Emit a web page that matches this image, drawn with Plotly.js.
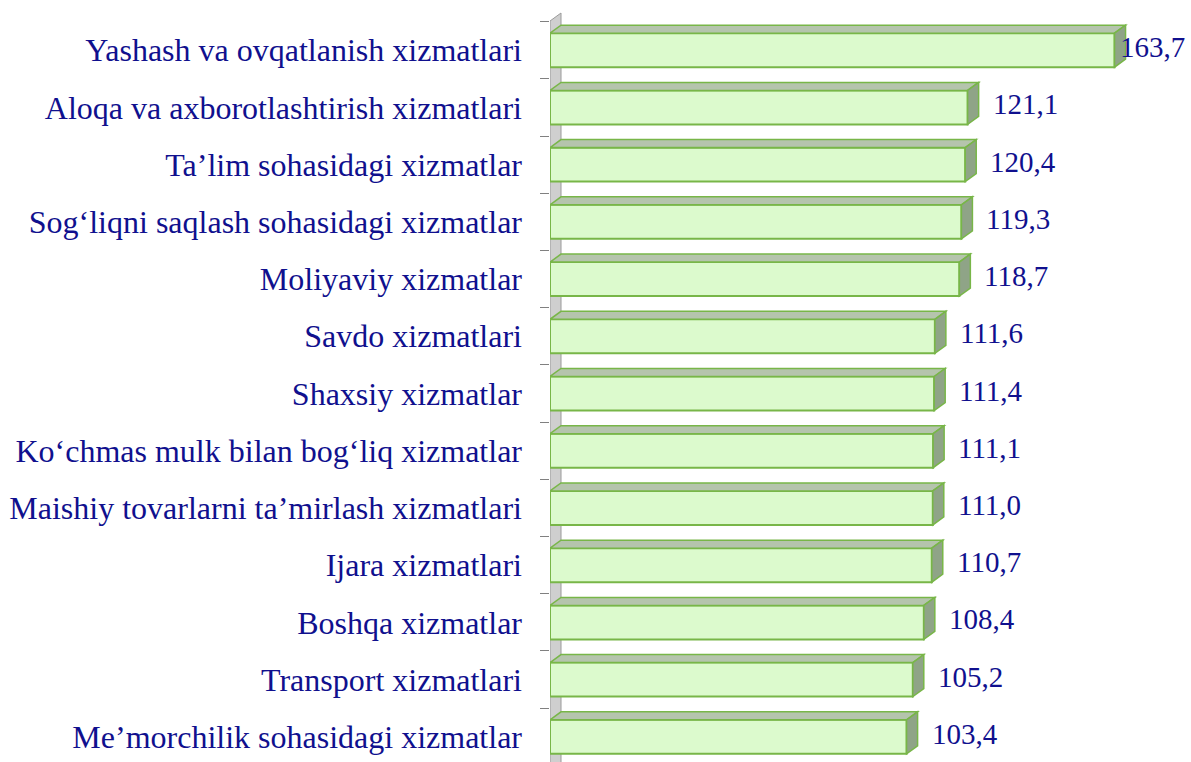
<!DOCTYPE html>
<html>
<head>
<meta charset="utf-8">
<script src="https://cdn.plot.ly/plotly-3.0.1.min.js"></script>
<style>
  html, body { margin: 0; padding: 0; background: #fff; }
  #plot { width: 1191px; height: 762px; }
</style>
</head>
<body>
<div id="plot"></div>
<script>
var categories = [
  "Yashash va ovqatlanish xizmatlari",
  "Aloqa va axborotlashtirish xizmatlari",
  "Ta\u2019lim sohasidagi xizmatlar",
  "Sog\u2018liqni saqlash sohasidagi xizmatlar",
  "Moliyaviy xizmatlar",
  "Savdo xizmatlari",
  "Shaxsiy xizmatlar",
  "Ko\u2018chmas mulk bilan bog\u2018liq xizmatlar",
  "Maishiy tovarlarni ta\u2019mirlash xizmatlari",
  "Ijara xizmatlari",
  "Boshqa xizmatlar",
  "Transport xizmatlari",
  "Me\u2019morchilik sohasidagi xizmatlar"
];
var values = [163.7, 121.1, 120.4, 119.3, 118.7, 111.6, 111.4, 111.1, 111.0, 110.7, 108.4, 105.2, 103.4];

var W = 1191, H = 762;
var mL = 550, mR = 3, mT = 21, mB = 0;
var xMax = 185;
var pxPerUnit = (W - mL - mR) / xMax;
var depthX = 11, depthY = 8, halfH = 17;
var dxData = depthX / pxPerUnit;

var navy = '#10108e';
var edge = '#78b648';
var serif = 'Liberation Serif, Times New Roman, serif';

var fmt = function (v) { return v.toFixed(1).replace('.', ','); };

var bars = {
  type: 'bar',
  orientation: 'h',
  x: values,
  y: categories,
  width: 0.594,
  marker: { color: '#dcfacd', line: { color: edge, width: 2 } },
  hoverinfo: 'skip'
};

var shapes = [];
// side wall
shapes.push({
  type: 'path', layer: 'below',
  xref: 'x', xsizemode: 'pixel', xanchor: 0,
  yref: 'paper', ysizemode: 'pixel', yanchor: 1,
  path: 'M0,0 L' + depthX + ',' + depthY + ' L' + depthX + ',-760 L0,-760 Z',
  fillcolor: '#cfcfcf', line: { color: '#9a9a9a', width: 1 }
});
values.forEach(function (v, i) {
  // top face
  shapes.push({
    type: 'path', layer: 'above',
    xref: 'x', yref: 'y', ysizemode: 'pixel', yanchor: i,
    path: 'M0,' + halfH + ' L' + v + ',' + halfH + ' L' + (v + dxData) + ',' + (halfH + depthY) +
          ' L' + dxData + ',' + (halfH + depthY) + ' Z',
    fillcolor: '#b5c4ad', line: { color: edge, width: 1.5 }
  });
  // side face
  shapes.push({
    type: 'path', layer: 'above',
    xref: 'x', xsizemode: 'pixel', xanchor: v,
    yref: 'y', ysizemode: 'pixel', yanchor: i,
    path: 'M0,' + halfH + ' L' + depthX + ',' + (halfH + depthY) + ' L' + depthX + ',' + (depthY - halfH) +
          ' L0,' + (-halfH) + ' Z',
    fillcolor: '#8fa487', line: { color: edge, width: 1.5 }
  });
});

var labelW = 70;
var annotations = values.map(function (v, i) {
  var room = (xMax - v) * pxPerUnit - labelW;
  return {
    x: v, y: i, xref: 'x', yref: 'y',
    text: fmt(v), showarrow: false,
    xanchor: 'left', yanchor: 'middle',
    xshift: Math.min(23, room),
    yshift: 3,
    font: { family: serif, size: 29, color: navy }
  };
});

var layout = {
  width: W, height: H,
  margin: { l: mL, r: mR, t: mT, b: mB },
  paper_bgcolor: '#fff', plot_bgcolor: 'rgba(0,0,0,0)',
  showlegend: false,
  xaxis: { range: [0, xMax], visible: false, fixedrange: true },
  yaxis: {
    type: 'category',
    range: [12.44, -0.51],
    tickson: 'boundaries',
    ticks: 'outside', ticklen: 9, tickcolor: '#808080', tickwidth: 1,
    showline: false, showgrid: false, zeroline: false,
    ticklabelstandoff: 27,
    tickfont: { family: serif, size: 32, color: navy },
    fixedrange: true
  },
  shapes: shapes,
  annotations: annotations
};

Plotly.newPlot('plot', [bars], layout, { displayModeBar: false, staticPlot: true });
</script>
</body>
</html>
